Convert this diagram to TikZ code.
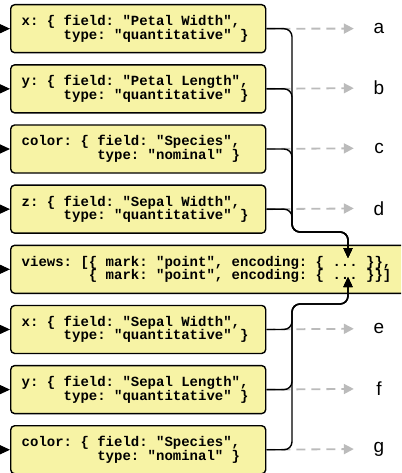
\documentclass[tikz,border=0pt]{standalone}
\usepackage{fontspec}
\newfontfamily\boxfont{Liberation Mono}
\newfontfamily\labfont{Liberation Sans}
\usetikzlibrary{arrows.meta}
\definecolor{boxyellow}{RGB}{247,243,165}
\definecolor{dashgray}{RGB}{187,187,187}
\newcommand{\ind}[1]{\hspace*{#1\fontcharwd\font`0}}
\newcommand{\ms}{\frenchspacing\spaceskip=\fontcharwd\font`0\relax\xspaceskip=\spaceskip}
\begin{document}
\begin{tikzpicture}[x=1pt,y=-1pt,
  spec/.style={draw=black, line width=1.4pt, fill=boxyellow, rounded corners=4pt,
    anchor=north west, text width=233pt, inner xsep=11pt, inner ysep=0pt,
    minimum height=48pt, align=left,
    font=\boxfont\bfseries\fontsize{14}{13.5}\selectfont},
  wide/.style={spec, text width=388pt},
  lab/.style={font=\labfont\fontsize{19}{19}\selectfont, minimum width=50pt, inner sep=0pt},
  link/.style={draw=black, line width=1.4pt, rounded corners=8pt,
    -{Triangle[length=10pt,width=9pt]}},
  feed/.style={draw=black, line width=1pt, -{Triangle[length=10pt,width=9pt]}},
  hint/.style={draw=dashgray, line width=1.8pt, dash pattern=on 9pt off 6pt,
    -{Triangle[length=10pt,width=10pt]}}]
\useasboundingbox (0,0) rectangle (401,473);
\clip (0,0) rectangle (401,473);

\node[spec] (b1) at (10,4)      {\ms x: \{ field: "Petal Width",\\\ind{5}type: "quantitative" \}};
\node[spec] (b2) at (10,64.15)  {\ms y: \{ field: "Petal Length",\\\ind{5}type: "quantitative" \}};
\node[spec] (b3) at (10,124.3)  {\ms color: \{ field: "Species",\\\ind{9}type: "nominal" \}};
\node[spec] (b4) at (10,184.45) {\ms z: \{ field: "Sepal Width",\\\ind{5}type: "quantitative" \}};
\node[wide] (b5) at (10,244.6)  {\ms views: [\{ mark: "point", encoding: \{ ... \}\},\\\ind{8}\{ mark: "point", encoding: \{ ... \}\}]};
\node[spec] (b6) at (10,304.75) {\ms x: \{ field: "Sepal Width",\\\ind{5}type: "quantitative" \}};
\node[spec] (b7) at (10,364.9)  {\ms y: \{ field: "Sepal Length",\\\ind{5}type: "quantitative" \}};
\node[spec] (b8) at (10,425.05) {\ms color: \{ field: "Species",\\\ind{9}type: "nominal" \}};

\node[lab] (la) at (379,28.6)  {a};
\node[lab] (lb) at (379,88.15) {b};
\node[lab] (lc) at (379,148.3) {c};
\node[lab] (ld) at (379,208.45){d};
\node[lab] (le) at (379,328.75){e};
\node[lab] (lf) at (379,388.9) {f};
\node[lab] (lg) at (379,449.05){g};

\foreach \b/\l in {b1/la,b2/lb,b3/lc,b4/ld,b6/le,b7/lf,b8/lg}
  \draw[hint] (\b.east) -- (\l.west);

\foreach \b in {b1,b2,b3,b4,b5,b6,b7,b8}{
  \coordinate (in-\b) at ([xshift=-20pt]\b.west);
  \draw[feed] (in-\b) -- (\b.west);
}

\coordinate (bustop) at (292,232);
\coordinate (tiptop) at (348,258);
\coordinate (busbot) at (292,304);
\coordinate (tipbot) at (348,277);
\foreach \b in {b1,b2,b3,b4}
  \draw[link] (\b.east) -| (bustop) -| (tiptop);
\foreach \b in {b6,b7,b8}
  \draw[link] (\b.east) -| (busbot) -| (tipbot);
\end{tikzpicture}
\end{document}
